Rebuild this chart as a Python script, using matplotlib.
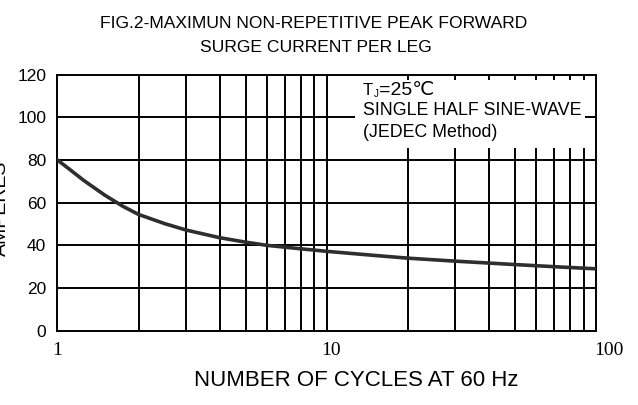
# Surge current derating curve (FIG.2)

import matplotlib.pyplot as plt
import matplotlib.patches as patches
import matplotlib.transforms as mtransforms
from matplotlib import font_manager

plt.rcParams['font.family'] = ['Liberation Sans', 'DejaVu Sans']

# Data
cycles = [1, 1.1, 1.25, 1.5, 1.75, 2, 2.5, 3, 4, 5, 6, 8, 10, 15, 20, 30, 50, 70, 100]
amperes = [80, 76, 70.5, 63.5, 58.3, 54.5, 50.2, 47.2, 43.6, 41.5, 40, 38.4, 37.2,
           35.3, 34, 32.6, 31, 30, 29]
y_ticks = [0, 20, 40, 60, 80, 100, 120]
x_ticks = [1, 10, 100]
x_tick_labels = ['1', '10', '100']
title_lines = ['FIG.2-MAXIMUN NON-REPETITIVE PEAK FORWARD', 'SURGE CURRENT PER LEG']

# narrow font for the title if we have it
names = {f.name for f in font_manager.fontManager.ttflist}
if 'Liberation Sans Narrow' in names:
    title_font, title_size = ['Liberation Sans Narrow', 'DejaVu Sans'], 15
else:
    title_font, title_size = ['Liberation Sans', 'DejaVu Sans'], 12.6

fig = plt.figure(figsize=(6.38, 4.05), dpi=100)
ax = fig.add_axes([0.0901, 0.1835, 0.844, 0.632])

ax.set_xscale('log')
ax.set_xlim(1, 100)
ax.set_ylim(0, 120)

# grid lines
for v in list(range(2, 11)) + list(range(20, 100, 10)):
    ax.axvline(v, color='black', linewidth=1.4, zorder=1)
for v in y_ticks[1:-1]:
    ax.axhline(v, color='black', linewidth=1.4, zorder=1)
for s in ax.spines.values():
    s.set_linewidth(1.4)

# white box behind the note
box = patches.Rectangle((0.552, 0.714), 0.428, 0.265, transform=ax.transAxes,
                        facecolor='white', edgecolor='none', zorder=2)
ax.add_patch(box)
ax.annotate('T', (0.567, 0.940), xycoords='axes fraction', fontsize=12,
            va='center', zorder=3)
ax.annotate('J', (0.567, 0.940), xycoords='axes fraction', xytext=(8, -3),
            textcoords='offset points', fontsize=7, va='center', zorder=3)
ax.annotate('=25℃', (0.567, 0.940), xycoords='axes fraction', xytext=(12, 0),
            textcoords='offset points', fontsize=14, va='center', zorder=3)
ax.text(0.567, 0.862, 'SINGLE HALF SINE-WAVE', transform=ax.transAxes,
        fontsize=12.8, va='center', zorder=3)
ax.text(0.567, 0.776, '(JEDEC Method)', transform=ax.transAxes,
        fontsize=12.8, va='center', zorder=3)

ax.plot(cycles, amperes, color='#2e2e2e', linewidth=2.6, zorder=4,
        solid_joinstyle='round')

ax.set_yticks(y_ticks)
ax.set_yticklabels([str(t) for t in y_ticks], fontsize=12.5)
ax.set_xticks(x_ticks)
ax.set_xticklabels(x_tick_labels)
for lab in ax.get_xticklabels():
    lab.set_fontfamily('Liberation Serif')
    lab.set_fontsize(14)
ax.xaxis.set_minor_locator(plt.NullLocator())
ax.tick_params(length=0, pad=8)
# the "10" and "100" labels sit a bit right of their lines
for lab, dx in zip(ax.get_xticklabels(), [0, 4, 13]):
    lab.set_transform(lab.get_transform() +
                      mtransforms.ScaledTranslation(dx / 100, 0, fig.dpi_scale_trans))

fig.text(0.492, 0.941, title_lines[0], ha='center', va='center',
         fontsize=title_size, family=title_font)
fig.text(0.495, 0.883, title_lines[1], ha='center', va='center',
         fontsize=title_size, family=title_font)
fig.text(0.558, 0.0605, 'NUMBER OF CYCLES AT 60 Hz', ha='center', va='center', fontsize=16)
fig.text(0.003, 0.486, 'AMPERES', rotation=90, ha='center', va='center', fontsize=14)

plt.savefig('out.png', dpi=100)
